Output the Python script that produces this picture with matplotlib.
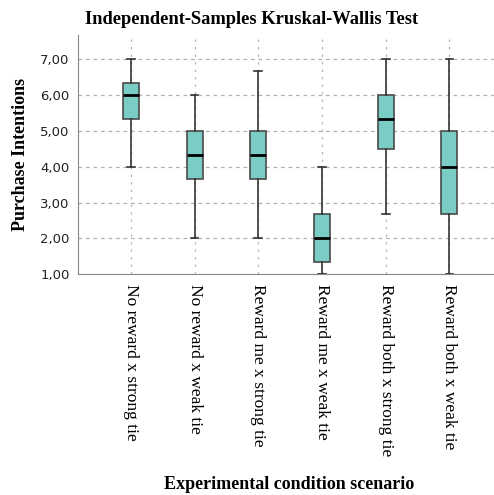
import matplotlib
matplotlib.use("Agg")
import matplotlib.pyplot as plt
from matplotlib.ticker import FuncFormatter

# scenario labels and box statistics
labels = ["No reward x strong tie", "No reward x weak tie", "Reward me x strong tie",
          "Reward me x weak tie", "Reward both x strong tie", "Reward both x weak tie"]
whislo = [4.00, 2.00, 2.00, 1.00, 2.67, 1.00]
q1 = [5.33, 3.67, 3.67, 1.33, 4.50, 2.67]
med = [6.00, 4.33, 4.33, 2.00, 5.33, 4.00]
q3 = [6.33, 5.00, 5.00, 2.67, 6.00, 5.00]
whishi = [7.00, 6.00, 6.67, 4.00, 7.00, 7.00]

stats = [dict(whislo=a, q1=b, med=c, q3=d, whishi=e, fliers=[])
         for a, b, c, d, e in zip(whislo, q1, med, q3, whishi)]

fig = plt.figure(figsize=(4.94, 4.95), dpi=100)
ax = fig.add_axes([0.158, 0.446, 0.842, 0.483])

pos = list(range(1, len(labels) + 1))
ax.bxp(stats, positions=pos, widths=0.25, capwidths=0.12, patch_artist=True,
       boxprops=dict(facecolor="#79cdc5", edgecolor="#4a4a4a", linewidth=1.2),
       medianprops=dict(color="black", linewidth=2),
       whiskerprops=dict(color="#333333", linewidth=1.2),
       capprops=dict(color="#333333", linewidth=1.2), zorder=3)

ax.set_xlim(0.17, 6.7)
ax.set_ylim(1, 7.67)
ax.set_yticks([1, 2, 3, 4, 5, 6, 7])
ax.yaxis.set_major_formatter(FuncFormatter(lambda v, p: f"{v:.2f}".replace(".", ",")))
ax.tick_params(axis="y", labelsize=9.5, length=0, pad=6, labelcolor="#222222")
ax.set_xticks(pos)
ax.set_xticklabels(labels, rotation=270, fontsize=12.5, family="Liberation Serif")
ax.tick_params(axis="x", length=0, pad=7)

ax.grid(axis="y", linestyle=(0, (3, 3)), color="#b0b0b0", linewidth=0.9)
ax.grid(axis="x", linestyle=(0, (2, 4)), color="#b8b8b8", linewidth=0.9)
ax.set_axisbelow(True)
for s in ["top", "right"]:
    ax.spines[s].set_visible(False)
for s in ["left", "bottom"]:
    ax.spines[s].set_color("#888888")

ax.set_ylabel("Purchase Intentions", fontsize=13, fontweight="bold", family="Liberation Serif", labelpad=8)
fig.text(0.585, 0.012, "Experimental condition scenario", ha="center", fontsize=13,
         fontweight="bold", family="Liberation Serif")
fig.text(0.51, 0.952, "Independent-Samples Kruskal-Wallis Test", ha="center", fontsize=13.3,
         fontweight="bold", family="Liberation Serif")

fig.savefig("out.png", dpi=100)
